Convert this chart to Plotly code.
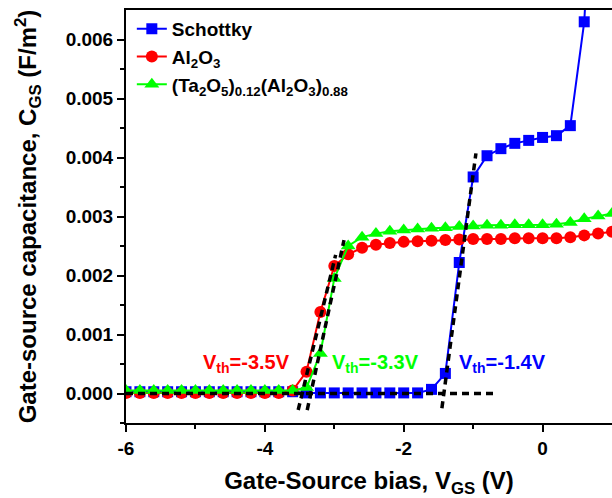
import plotly.graph_objects as go

# ---- data ----
v_low = [-6.0, -5.8, -5.6, -5.4, -5.2, -5.0, -4.8, -4.6, -4.4, -4.2, -4.0, -3.8, -3.6]

schottky_x = v_low + [-3.4, -3.2, -3.0, -2.8, -2.6, -2.4, -2.2, -2.0, -1.8, -1.6, -1.4, -1.2,
                      -1.0, -0.8, -0.6, -0.4, -0.2, 0.0, 0.2, 0.4, 0.6, 0.8]
schottky_y = [0.00003] * 13 + [0.00001, 0.00001, 0.00001, 0.00001, 0.00001, 0.00001, 0.00001,
                               0.00001, 0.00001, 0.00007, 0.00034, 0.00222, 0.00367, 0.00403,
                               0.00415, 0.00424, 0.00429, 0.00434, 0.00437, 0.00454, 0.00630, 0.01050]

al2o3_x = v_low + [-3.4, -3.2, -3.0, -2.8, -2.6, -2.4, -2.2, -2.0, -1.8, -1.6, -1.4, -1.2,
                   -1.0, -0.8, -0.6, -0.4, -0.2, 0.0, 0.2, 0.4, 0.6, 0.8, 1.0]
al2o3_y = [0.00001] * 12 + [0.00005, 0.00037, 0.00138, 0.00216, 0.00236, 0.00247, 0.00252,
                            0.00255, 0.00257, 0.00258, 0.00259, 0.00260, 0.00261, 0.00262,
                            0.00262, 0.00262, 0.00263, 0.00263, 0.00263, 0.00263, 0.00265,
                            0.00268, 0.00271, 0.00274]

tao_x = v_low + [-3.4, -3.2, -3.0, -2.8, -2.6, -2.4, -2.2, -2.0, -1.8, -1.6, -1.4, -1.2,
                 -1.0, -0.8, -0.6, -0.4, -0.2, 0.0, 0.2, 0.4, 0.6, 0.8, 1.0]
tao_y = [0.00005] * 13 + [0.00010, 0.00068, 0.00195, 0.00250, 0.00265, 0.00271, 0.00275,
                          0.00277, 0.00279, 0.00280, 0.00281, 0.00283, 0.00284, 0.00285,
                          0.00285, 0.00286, 0.00286, 0.00286, 0.00287, 0.00290, 0.00296,
                          0.00301, 0.00305]

# linear fits (threshold extraction)
fit_base_x = [-6.0, -0.65]
fit_base_y = [0.0, 0.0]
fit_al_x = [-3.52, -2.98]
fit_al_y = [-0.00028, 0.00235]
fit_tao_x = [-3.39, -2.86]
fit_tao_y = [-0.00028, 0.00260]
fit_sch_x = [-1.45, -0.96]
fit_sch_y = [-0.00025, 0.00407]

vth_labels = ["V<sub>th</sub>=-3.5V", "V<sub>th</sub>=-3.3V", "V<sub>th</sub>=-1.4V"]
vth_x = [-4.26, -2.41, -0.58]
vth_y = [0.00051, 0.00051, 0.00051]
vth_colors = ["#FF0000", "#00FF00", "#0000FF"]

FONT = "Liberation Sans, Arial, sans-serif"

fig = go.Figure()
fig.add_trace(go.Scatter(x=schottky_x, y=schottky_y, mode="lines+markers", name="Schottky",
                         line=dict(color="#0000FF", width=2),
                         marker=dict(symbol="square", size=11, color="#0000FF")))
fig.add_trace(go.Scatter(x=al2o3_x, y=al2o3_y, mode="lines+markers",
                         name="Al<sub>2</sub>O<sub>3</sub>",
                         line=dict(color="#FF0000", width=2),
                         marker=dict(symbol="circle", size=12, color="#FF0000")))
fig.add_trace(go.Scatter(x=tao_x, y=tao_y, mode="lines+markers",
                         name="(Ta<sub>2</sub>O<sub>5</sub>)<sub>0.12</sub>(Al<sub>2</sub>O<sub>3</sub>)<sub>0.88</sub>",
                         line=dict(color="#00FF00", width=2),
                         marker=dict(symbol="triangle-up", size=13, color="#00FF00")))
for fx, fy in [(fit_base_x, fit_base_y), (fit_al_x, fit_al_y), (fit_tao_x, fit_tao_y),
               (fit_sch_x, fit_sch_y)]:
    fig.add_trace(go.Scatter(x=fx, y=fy, mode="lines", showlegend=False,
                             line=dict(color="black", width=3.5, dash="7px,5px")))

for t, x, y, c in zip(vth_labels, vth_x, vth_y, vth_colors):
    fig.add_annotation(x=x, y=y, text=t, showarrow=False, xanchor="center", yanchor="middle",
                       font=dict(family=FONT, size=20, color=c, weight="bold"))

fig.update_layout(
    width=612, height=498,
    margin=dict(l=126, r=0, t=10, b=75),
    paper_bgcolor="white", plot_bgcolor="white",
    font=dict(family=FONT, color="black", weight="bold"),
    legend=dict(x=0.012, y=1.0, xanchor="left", yanchor="top", bgcolor="rgba(0,0,0,0)",
                font=dict(family=FONT, size=19, color="black", weight="bold"),
                tracegroupgap=0),
)
fig.update_xaxes(range=[-6, 1], showline=True, linecolor="black", linewidth=2, mirror=True,
                 ticks="outside", ticklen=7, tickwidth=2, tickcolor="black",
                 tickvals=[-6, -4, -2, 0], ticktext=["-6", "-4", "-2", "0"],
                 minor=dict(tickvals=[-5, -3, -1], ticks="outside", ticklen=4, tickwidth=2,
                            tickcolor="black"),
                 showgrid=False, zeroline=False,
                 tickfont=dict(family=FONT, size=19, color="black", weight="bold"),
                 title=dict(text="Gate-Source bias, V<sub>GS</sub> (V)", standoff=14,
                            font=dict(family=FONT, size=24, color="black", weight="bold")))
fig.update_yaxes(range=[-0.0005, 0.0065], showline=True, linecolor="black", linewidth=2,
                 mirror=False, ticks="outside", ticklen=7, tickwidth=2, tickcolor="black",
                 tickvals=[0, 0.001, 0.002, 0.003, 0.004, 0.005, 0.006],
                 ticktext=["0.000", "0.001", "0.002", "0.003", "0.004", "0.005", "0.006"],
                 minor=dict(tickvals=[-0.0005, 0.0005, 0.0015, 0.0025, 0.0035, 0.0045, 0.0055],
                            ticks="outside", ticklen=4, tickwidth=2, tickcolor="black"),
                 showgrid=False, zeroline=False,
                 tickfont=dict(family=FONT, size=19, color="black", weight="bold"),
                 title=dict(text="Gate-source capacitance, C<sub>GS</sub> (F/m<sup>2</sup>)",
                            standoff=22,
                            font=dict(family=FONT, size=24, color="black", weight="bold")))

fig.write_html("out.html", config={"displayModeBar": False},
               post_script="document.body.style.margin='0';document.body.style.overflow='hidden';")
